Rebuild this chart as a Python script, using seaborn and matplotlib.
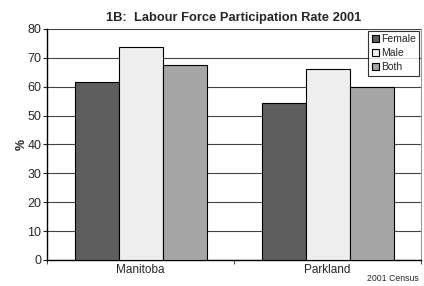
import pandas as pd
import matplotlib
matplotlib.use("Agg")
import matplotlib.pyplot as plt
import seaborn as sns

# Datos
regions = ["Manitoba", "Parkland"]
groups = ["Female", "Male", "Both"]
female = [61.7, 54.2]
male = [73.8, 66.0]
both = [67.5, 60.0]
colors = ["#5e5e5e", "#eeeeee", "#a6a6a6"]

df = pd.DataFrame({
    "region": regions * 3,
    "group": ["Female"] * 2 + ["Male"] * 2 + ["Both"] * 2,
    "value": female + male + both,
})

sns.set_style("white")
plt.rcParams["font.family"] = ["Liberation Sans", "DejaVu Sans"]

fig = plt.figure(figsize=(4.24, 2.86), dpi=100)
ax = fig.add_axes([0.111, 0.091, 0.882, 0.808])

sns.barplot(data=df, x="region", y="value", hue="group", hue_order=groups,
            palette=colors, width=0.706, edgecolor="black", linewidth=0.8,
            saturation=1, ax=ax, zorder=3)

ax.set_ylim(0, 80)
ax.set_xlim(-0.5, 1.5)
ax.set_yticks(range(0, 81, 10))
ax.yaxis.grid(True, color="#444444", linewidth=0.8, zorder=0)
ax.set_axisbelow(True)

ax.tick_params(axis="y", labelsize=9, length=3, direction="out", left=True, pad=1)
ax.tick_params(axis="x", labelsize=8.5, length=0, pad=3)
ax.set_xticks([-0.5, 0.5, 1.5], minor=True)
ax.tick_params(axis="x", which="minor", length=3, direction="out", bottom=True)

for side in ["left", "bottom"]:
    ax.spines[side].set_color("black")
    ax.spines[side].set_linewidth(1)
ax.spines["top"].set_visible(False)
ax.spines["right"].set_color("#999999")
ax.spines["right"].set_linewidth(0.8)

ax.set_xlabel("")
ax.set_ylabel("%", fontsize=9, fontweight="bold", labelpad=0)
ax.set_title("1B:  Labour Force Participation Rate 2001", fontsize=9.3,
             fontweight="bold", pad=6)

leg = ax.legend(loc="upper right", fontsize=7.5, frameon=True, fancybox=False,
                handlelength=0.7, handleheight=0.7, handletextpad=0.2,
                borderpad=0.3, labelspacing=0.4, borderaxespad=0.2)
leg.get_frame().set_edgecolor("black")
leg.get_frame().set_linewidth(0.8)

fig.text(0.988, 0.012, "2001 Census", fontsize=6.3, ha="right", va="bottom")

fig.savefig("out.png", dpi=100)
